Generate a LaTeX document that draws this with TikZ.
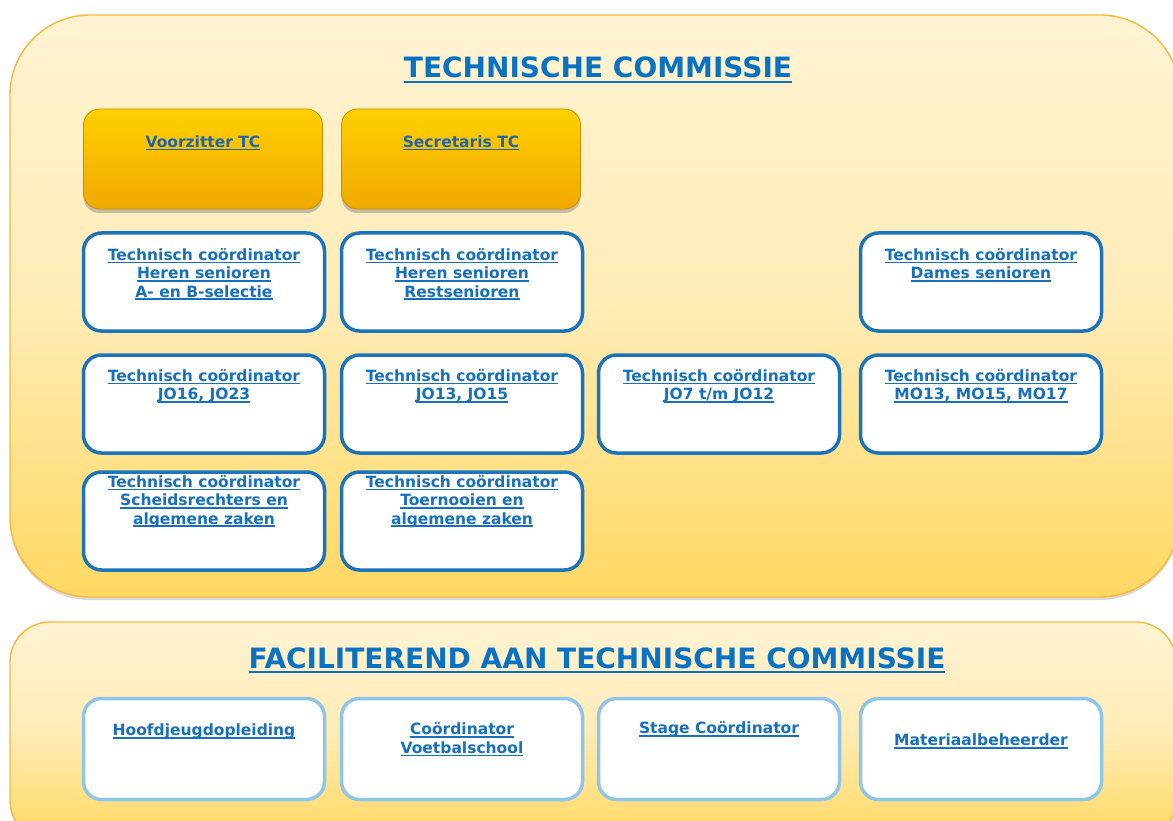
\documentclass[tikz,border=0pt]{standalone}
\usepackage{fontspec}
\setmainfont{DejaVu Sans}
\usetikzlibrary{positioning,shadows}
\definecolor{linkblue}{HTML}{1670BD}
\definecolor{goldtext}{HTML}{1D66AE}
\definecolor{titleblue}{HTML}{0A72C2}
\definecolor{panelline}{HTML}{F6B93B}
\definecolor{paneltop}{HTML}{FFF3D3}
\definecolor{panelmid}{HTML}{FFECB6}
\definecolor{panelbot}{HTML}{FFD862}
\definecolor{goldtop}{HTML}{FFD000}
\definecolor{goldbot}{HTML}{F1A800}
\definecolor{goldline}{HTML}{C98F00}
\definecolor{tcblue}{HTML}{1B73BA}
\definecolor{facblue}{HTML}{8FC5E8}
\newcommand\ulnk[1]{\setbox0\hbox{#1}\leavevmode\rlap{\vrule height -0.09em depth 0.18em width\wd0}\box0}

\begin{document}
\begin{tikzpicture}[x=1pt,y=-1pt,
  panel/.style={rectangle,draw=panelline,line width=1.4pt,top color=paneltop,bottom color=panelbot,middle color=panelmid,
    drop shadow={shadow xshift=0pt,shadow yshift=-3pt,opacity=0.3}},
  goldbox/.style={rectangle,rounded corners=16pt,minimum width=239pt,minimum height=100pt,draw=goldline,line width=0.8pt,
    top color=goldtop,bottom color=goldbot,drop shadow={shadow xshift=0pt,shadow yshift=-4pt,opacity=0.45}},
  tcbox/.style={rectangle,rounded corners=18pt,minimum width=241pt,minimum height=98pt,fill=white,draw=tcblue,line width=3.5pt},
  facbox/.style={rectangle,rounded corners=18pt,minimum width=241pt,minimum height=101pt,fill=white,draw=facblue,line width=3.5pt},
  boxtext/.style={align=center,inner sep=0pt,text=linkblue,font=\bfseries\fontsize{15.5}{18.3}\selectfont},
  paneltitle/.style={inner sep=0pt,anchor=base,text=titleblue,font=\bfseries\fontsize{28}{32}\selectfont}]
\useasboundingbox (0,0) rectangle (1173,821);
\clip (0,0) rectangle (1173,821);
\fill[white] (0,0) rectangle (1173,821);

\node[panel,rounded corners=80pt,minimum width=1170pt,minimum height=582pt] (tc) at (595,306) {};
\node[panel,rounded corners=40pt,minimum width=1166pt,minimum height=218pt] (fac) at (593,731) {};

\node[paneltitle] (tctitle) at (598,78) {\ulnk{TECHNISCHE COMMISSIE}};
\node[paneltitle] (factitle) at (597,668) {\ulnk{FACILITEREND AAN TECHNISCHE COMMISSIE}};

\node[goldbox] (vz) at (203,159) {};
\node[goldbox] (sec) at (461,159) {};
\node[boxtext,text=goldtext,below=27pt of vz.north] (vzt) {\ulnk{Voorzitter TC}};
\node[boxtext,text=goldtext,below=27pt of sec.north] (sect) {\ulnk{Secretaris TC}};

\node[tcbox] (hsa) at (204,282) {};
\node[tcbox] (hsr) at (462,282) {};
\node[tcbox] (ds) at (981,282) {};
\node[boxtext,below=17pt of hsa.north] (hsat) {\ulnk{Technisch coördinator}\\\ulnk{Heren senioren}\\\ulnk{A- en B-selectie}};
\node[boxtext,below=17pt of hsr.north] (hsrt) {\ulnk{Technisch coördinator}\\\ulnk{Heren senioren}\\\ulnk{Restsenioren}};
\node[boxtext,below=17pt of ds.north] (dst) {\ulnk{Technisch coördinator}\\\ulnk{Dames senioren}};

\node[tcbox] (jo16) at (204,404) {};
\node[tcbox] (jo13) at (462,404) {};
\node[tcbox] (jo7) at (719,404) {};
\node[tcbox] (mo) at (981,404) {};
\node[boxtext,below=16pt of jo16.north] (jo16t) {\ulnk{Technisch coördinator}\\\ulnk{JO16, JO23}};
\node[boxtext,below=16pt of jo13.north] (jo13t) {\ulnk{Technisch coördinator}\\\ulnk{JO13, JO15}};
\node[boxtext,below=16pt of jo7.north] (jo7t) {\ulnk{Technisch coördinator}\\\ulnk{JO7 t/m JO12}};
\node[boxtext,below=16pt of mo.north] (mot) {\ulnk{Technisch coördinator}\\\ulnk{MO13, MO15, MO17}};

\node[tcbox] (sch) at (204,521) {};
\node[tcbox] (toe) at (462,521) {};
\node[boxtext,below=5pt of sch.north] (scht) {\ulnk{Technisch coördinator}\\\ulnk{Scheidsrechters en}\\\ulnk{algemene zaken}};
\node[boxtext,below=5pt of toe.north] (toet) {\ulnk{Technisch coördinator}\\\ulnk{Toernooien en}\\\ulnk{algemene zaken}};

\node[facbox] (hjo) at (204,749) {};
\node[facbox] (cvs) at (462,749) {};
\node[facbox] (stc) at (719,749) {};
\node[facbox] (mat) at (981,749) {};
\node[boxtext,below=27pt of hjo.north] (hjot) {\ulnk{Hoofdjeugdopleiding}};
\node[boxtext,below=26pt of cvs.north] (cvst) {\ulnk{Coördinator}\\\ulnk{Voetbalschool}};
\node[boxtext,below=25pt of stc.north] (stct) {\ulnk{Stage Coördinator}};
\node[boxtext,below=37pt of mat.north] (matt) {\ulnk{Materiaalbeheerder}};
\end{tikzpicture}
\end{document}
